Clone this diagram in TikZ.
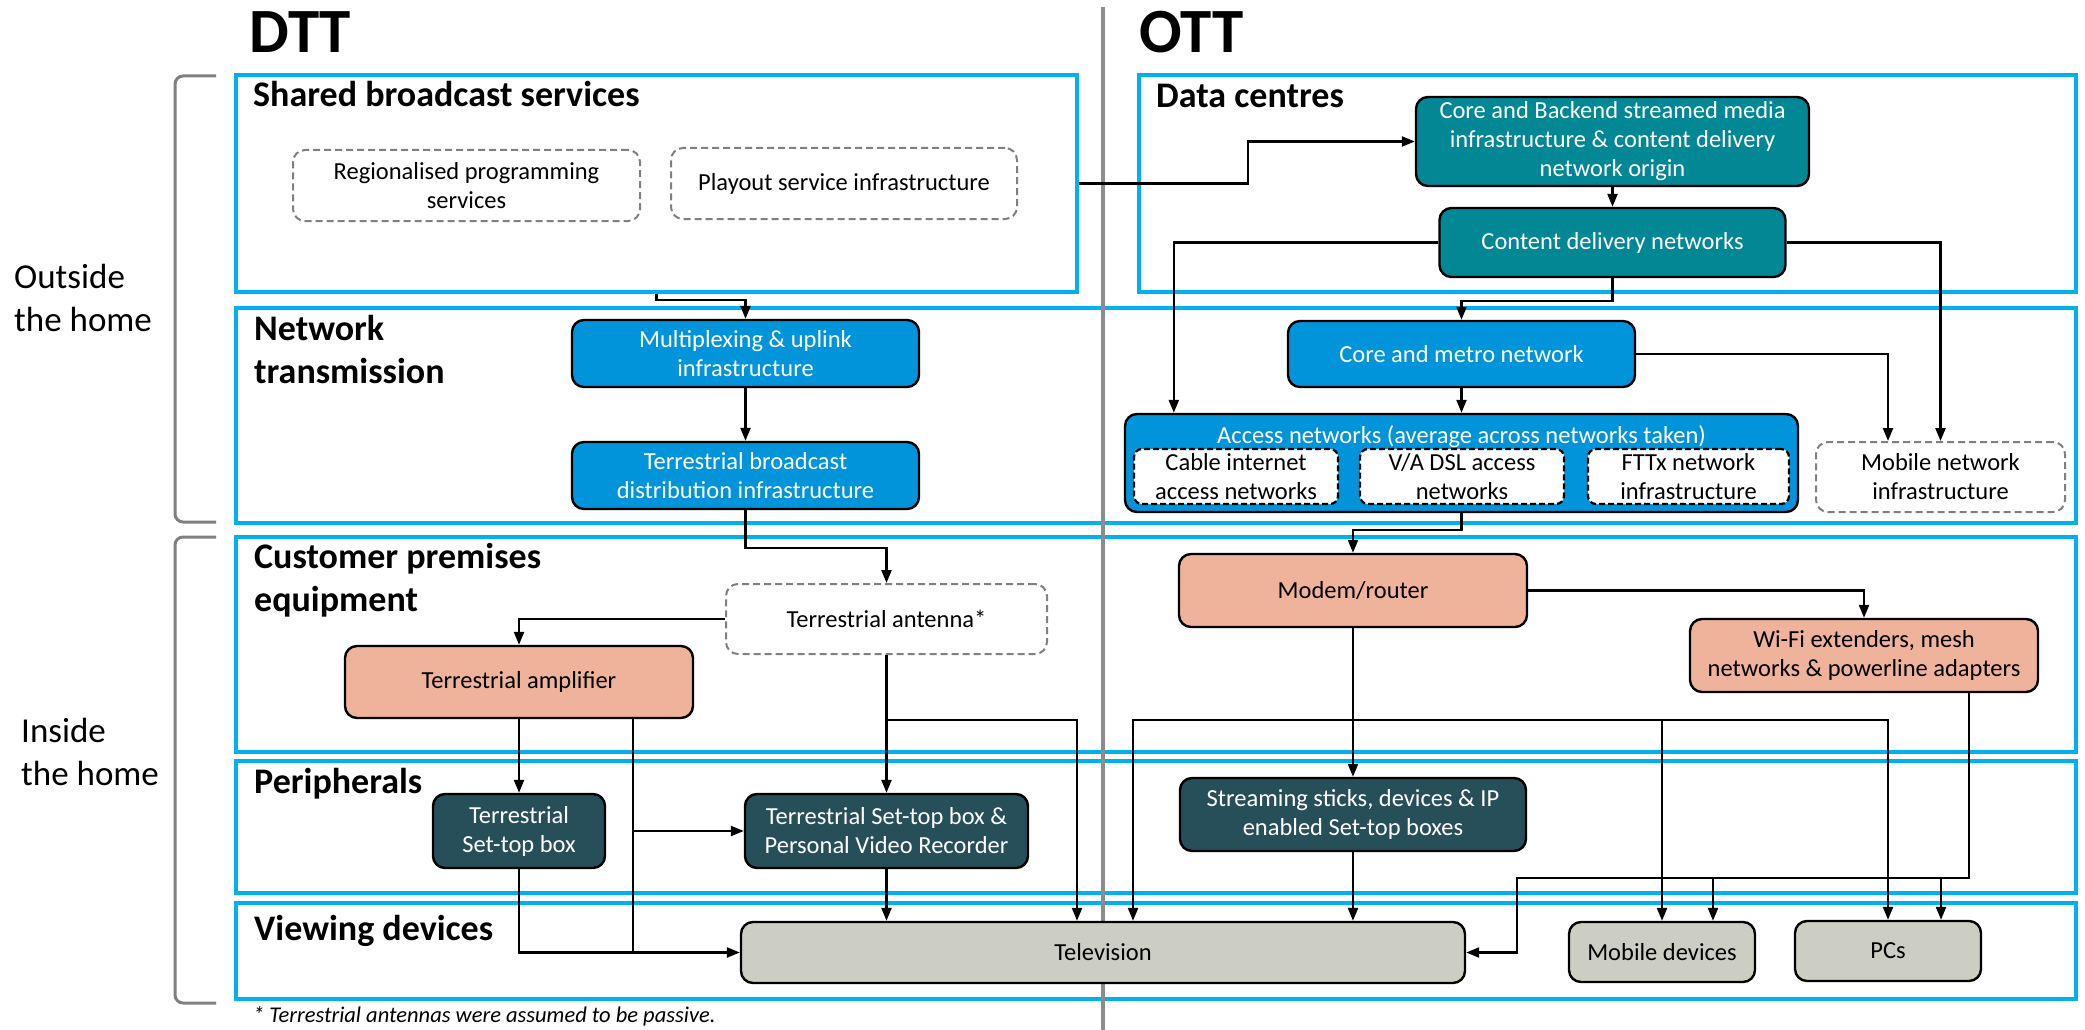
\documentclass[tikz,border=0pt]{standalone}
\usepackage{fontspec}
\setmainfont{Carlito}
\usetikzlibrary{arrows.meta,calc}
\definecolor{secblue}{HTML}{00B0F0}
\definecolor{tealc}{HTML}{028795}
\definecolor{bluec}{HTML}{0294DA}
\definecolor{salmonc}{HTML}{EFB29B}
\definecolor{slatec}{HTML}{274F59}
\definecolor{tvgray}{HTML}{CCCEC4}
\definecolor{dashgray}{HTML}{808080}
\definecolor{divgray}{HTML}{8C8C8C}
\begin{document}
\begin{tikzpicture}[x=1pt,y=-1pt,
  secbox/.style={draw=secblue, line width=3.5pt, inner sep=0pt},
  box/.style={rounded corners=12pt, line width=2.4pt, draw=black, align=center, inner sep=2pt, font=\fontsize{24.5}{29}\selectfont},
  tealbox/.style={box, fill=tealc, text=white},
  bluebox/.style={box, fill=bluec, text=white},
  salmonbox/.style={box, fill=salmonc, text=black},
  slatebox/.style={box, fill=slatec, text=white},
  graybox/.style={box, fill=tvgray, text=black},
  dashbox/.style={box, draw=dashgray, line width=2pt, dash pattern=on 7pt off 4pt, fill=white, text=black},
  subbox/.style={box, rounded corners=8pt, draw=black, line width=2.2pt, dash pattern=on 6pt off 3pt, fill=white, text=black},
  heading/.style={anchor=base west, inner sep=0pt, align=left, font=\fontsize{36}{43}\selectfont\bfseries},
  bigheading/.style={anchor=base west, inner sep=0pt, font=\fontsize{63}{70}\selectfont\bfseries},
  sidelabel/.style={anchor=base west, inner sep=0pt, align=left, font=\fontsize{35}{43}\selectfont},
  arr/.style={line width=2.3pt, -{Triangle[length=13pt,width=10pt]}},
  conn/.style={line width=2.3pt},
  bracket/.style={draw=dashgray, line width=3pt, rounded corners=8pt}
]
\useasboundingbox (0,0) rectangle (2085,1030);
\fill[white] (0,0) rectangle (2085,1030);

% section boxes
\node[secbox, minimum width=841pt, minimum height=217pt] (shared) at (656.5,183.5) {};
\node[secbox, minimum width=937pt, minimum height=217pt] (data) at (1607.5,183.5) {};
\node[secbox, minimum width=1840pt, minimum height=215pt] (network) at (1156,415.5) {};
\node[secbox, minimum width=1840pt, minimum height=215pt] (cpe) at (1156,644.5) {};
\node[secbox, minimum width=1840pt, minimum height=132pt] (periph) at (1156,827) {};
\node[secbox, minimum width=1840pt, minimum height=96pt] (view) at (1156,951) {};

% divider
\draw[draw=divgray, line width=4pt] (1103,7) coordinate (divtop) -- (1103,1030) coordinate (divbot);

% brackets
\draw[bracket] (216,76) -- (175,76) -- (175,522) -- (216,522);
\draw[bracket] (216,537) -- (175,537) -- (175,1003) -- (216,1003);

% titles and headings (multi-line nodes: base = last line)
\node[bigheading] (dtt) at (249,53) {DTT};
\node[bigheading] (ott) at (1139,53) {OTT};
\node[heading] (hshared) at (253,107) {Shared broadcast services};
\node[heading] (hdata) at (1156,108) {Data centres};
\node[heading] (hnet) at (254,383) {Network\\transmission};
\node[heading] (hcpe) at (254,611) {Customer premises\\equipment};
\node[heading] (hper) at (254,793) {Peripherals};
\node[heading] (hview) at (254,940) {Viewing devices};
\node[sidelabel] (outside) at (14,331) {Outside\\the home};
\node[sidelabel] (inside) at (21,785) {Inside\\the home};
\node[anchor=base west, inner sep=0pt, font=\fontsize{22.5}{27}\selectfont\itshape] (foot) at (253,1022) {* Terrestrial antennas were assumed to be passive.};

% nodes
\node[dashbox, minimum width=347pt, minimum height=71pt] (regional) at (466.5,185.5) {Regionalised programming\\services};
\node[dashbox, minimum width=346pt, minimum height=71pt] (playout) at (844,183.5) {Playout service infrastructure};
\node[tealbox, minimum width=393pt, minimum height=89pt] (core) at (1612.5,141.5) {Core and Backend streamed media\\infrastructure \& content delivery\\network origin};
\node[tealbox, minimum width=346pt, minimum height=69pt] (cdn) at (1612.5,242.5) {Content delivery networks};
\node[bluebox, minimum width=347pt, minimum height=67pt] (mux) at (745.5,353.5) {Multiplexing \& uplink\\infrastructure};
\node[bluebox, minimum width=347pt, minimum height=67pt] (tbd) at (745.5,475.5) {Terrestrial broadcast\\distribution infrastructure};
\node[bluebox, minimum width=347pt, minimum height=66pt] (metro) at (1461.5,354) {Core and metro network};
\node[bluebox, minimum width=673pt, minimum height=98pt] (access) at (1461.5,463) {};
\node[inner sep=0pt, text=white, font=\fontsize{24.5}{29}\selectfont] (accesstitle) at (1461.5,437) {Access networks (average across networks taken)};
\node[subbox, minimum width=204pt, minimum height=55pt] (cable) at (1236,476.5) {Cable internet\\access networks};
\node[subbox, minimum width=204pt, minimum height=55pt] (dsl) at (1462,476.5) {V/A DSL access\\networks};
\node[subbox, minimum width=201pt, minimum height=55pt] (fttx) at (1688.5,476.5) {FTTx network\\infrastructure};
\node[dashbox, minimum width=249pt, minimum height=70pt] (mobinfra) at (1940.5,477) {Mobile network\\infrastructure};
\node[dashbox, minimum width=321pt, minimum height=70pt] (antenna) at (886.5,619) {Terrestrial antenna*};
\node[salmonbox, minimum width=348pt, minimum height=72pt] (amp) at (519,682) {Terrestrial amplifier};
\node[salmonbox, minimum width=348pt, minimum height=73pt] (modem) at (1353,590.5) {Modem/router};
\node[salmonbox, minimum width=348pt, minimum height=73pt] (wifi) at (1864,655.5) {Wi-Fi extenders, mesh\\networks \& powerline adapters};
\node[slatebox, minimum width=172pt, minimum height=74pt] (tstb) at (519,831) {Terrestrial\\Set-top box};
\node[slatebox, minimum width=283pt, minimum height=74pt] (pvr) at (886.5,831) {Terrestrial Set-top box \&\\Personal Video Recorder};
\node[slatebox, minimum width=346pt, minimum height=73pt] (stream) at (1353,814.5) {Streaming sticks, devices \& IP\\enabled Set-top boxes};
\node[graybox, minimum width=724pt, minimum height=61pt] (tv) at (1103,952.5) {Television};
\node[graybox, minimum width=186pt, minimum height=60pt] (mobdev) at (1662,952) {Mobile devices};
\node[graybox, minimum width=186pt, minimum height=60pt] (pcs) at (1888,951) {PCs};

% connectors: DTT
\draw[arr] (shared.south) -- ++(0,6) -| (mux.north);
\draw[arr] (shared.east) -- ++(169,0) |- (core.west);
\draw[arr] (mux.south) -- (tbd.north);
\draw[arr] (tbd.south) -- ++(0,38) -| (antenna.north);
\draw[arr] (antenna.west) -| (amp.north);
\draw[arr] (tstb.north |- amp.south) -- (tstb.north);
\coordinate (ampR) at ([xshift=114pt]amp.south);
\draw[conn] (ampR) -- (ampR |- tv.west);
\draw[arr] (ampR |- pvr.west) -- (pvr.west);
\draw[arr] (tstb.south) |- (tv.west);
\draw[arr] (antenna.south) -- (pvr.north);
\coordinate (aj) at (886.5,720);
\draw[arr] (aj) -| ([xshift=-26pt]tv.north);
\draw[arr] (pvr.south) -- (pvr.south |- tv.north);

% connectors: OTT
\draw[arr] (core.south) -- (cdn.north);
\draw[arr] (cdn.west) -| ([xshift=50pt]access.north west);
\draw[arr] (cdn.east) -| (mobinfra.north);
\draw[arr] (cdn.south) -- ++(0,23) -| (metro.north);
\draw[arr] (metro.south) -- (access.north);
\draw[arr] (metro.east) -| ([xshift=-52.5pt]mobinfra.north);
\draw[arr] (access.south) -- ++(0,17) -| (modem.north);
\draw[arr] (modem.east) -| (wifi.north);
\draw[arr] (modem.south) -- (stream.north);
\coordinate (mj) at (1353,720);
\draw[arr] (mj) -| ([xshift=30pt]tv.north);
\draw[arr] (mj) -| (mobdev.north);
\draw[arr] (mj) -| (pcs.north);
\draw[arr] (stream.south) -- (stream.south |- tv.north);
\coordinate (wb) at ([xshift=105pt]wifi.south);
\coordinate (wturn) at (1517,878);
\draw[arr] (wb) |- (wturn) |- (tv.east);
\coordinate (mobR) at ([xshift=51pt]mobdev.north);
\coordinate (pcsR) at ([xshift=53pt]pcs.north);
\draw[arr] (wturn -| mobR) -- (mobR);
\draw[arr] (wturn -| pcsR) -- (pcsR);
\end{tikzpicture}
\end{document}
